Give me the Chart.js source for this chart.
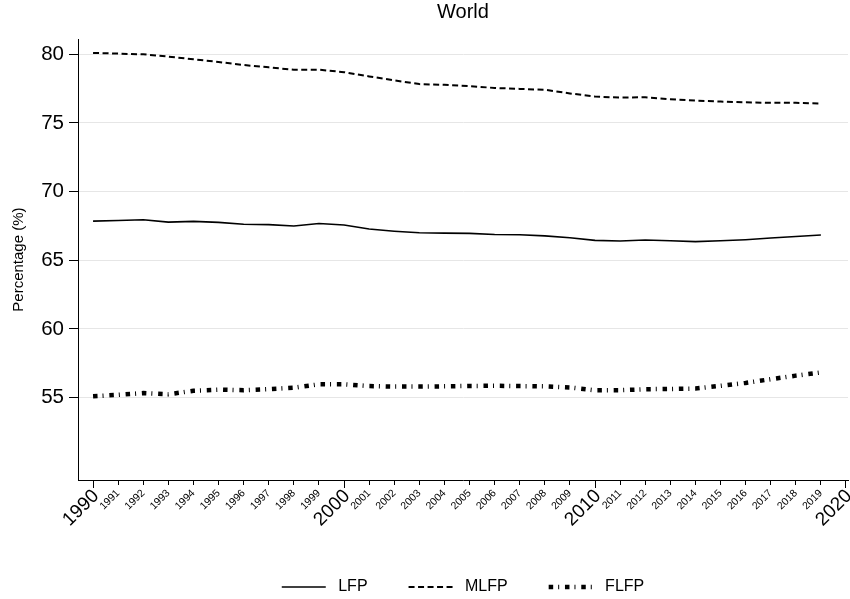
<!DOCTYPE html>
<html>
<head>
<meta charset="utf-8">
<title>World</title>
<script src="https://cdn.jsdelivr.net/npm/chart.js@4.4.0/dist/chart.umd.min.js"></script>
<style>
  html, body { margin: 0; padding: 0; background: #fff; }
  #wrap { width: 850px; height: 599px; }
</style>
</head>
<body>
<div id="wrap"><canvas id="lfpChart"></canvas></div>
<script>
// Labour force participation, world, 1990-2019
const years = [1990, 1991, 1992, 1993, 1994, 1995, 1996, 1997, 1998, 1999,
               2000, 2001, 2002, 2003, 2004, 2005, 2006, 2007, 2008, 2009,
               2010, 2011, 2012, 2013, 2014, 2015, 2016, 2017, 2018, 2019];

const lfp = [67.85, 67.90, 67.95, 67.78, 67.83, 67.76, 67.62, 67.60, 67.50, 67.68,
             67.57, 67.28, 67.12, 67.00, 66.98, 66.96, 66.88, 66.86, 66.78, 66.64,
             66.45, 66.40, 66.48, 66.42, 66.36, 66.42, 66.50, 66.62, 66.73, 66.84];

const mlfp = [80.10, 80.05, 80.00, 79.83, 79.64, 79.44, 79.22, 79.05, 78.87, 78.88,
              78.70, 78.39, 78.10, 77.83, 77.78, 77.68, 77.55, 77.48, 77.42, 77.15,
              76.92, 76.85, 76.87, 76.73, 76.63, 76.56, 76.50, 76.47, 76.47, 76.42];

const flfp = [55.10, 55.20, 55.33, 55.24, 55.50, 55.58, 55.54, 55.62, 55.72, 55.97,
              55.97, 55.84, 55.80, 55.80, 55.82, 55.85, 55.86, 55.84, 55.82, 55.74,
              55.53, 55.54, 55.61, 55.63, 55.66, 55.86, 56.07, 56.34, 56.60, 56.83];

const tickYears = [];
for (let y = 1990; y <= 2020; y++) tickYears.push(y);
const majorYears = [1990, 2000, 2010, 2020];
const yTicks = [55, 60, 65, 70, 75, 80];

Chart.defaults.font.family = "'Liberation Sans', Arial, Helvetica, sans-serif";
Chart.defaults.color = '#000';

function toPoints(values) {
  return years.map((yr, i) => ({ x: yr, y: values[i] }));
}

// legend samples keep the dataset's dash and width
function legendLabels(chart) {
  return Chart.defaults.plugins.legend.labels.generateLabels(chart).map(item => {
    const ds = chart.data.datasets[item.datasetIndex];
    item.text = ' ' + item.text;
    item.lineDash = ds.borderDash || [];
    item.lineWidth = ds.borderWidth;
    item.strokeStyle = ds.borderColor;
    return item;
  });
}

// rotated labels shouldn't eat into the plot width
function noSidePadding(s) {
  s.paddingLeft = 0;
  s.paddingRight = 0;
}

new Chart(document.getElementById('lfpChart'), {
  type: 'line',
  data: {
    datasets: [
      {
        label: 'LFP',
        data: toPoints(lfp),
        borderColor: '#000',
        borderWidth: 1.6,
        pointRadius: 0,
        tension: 0
      },
      {
        label: 'MLFP',
        data: toPoints(mlfp),
        borderColor: '#000',
        borderWidth: 2,
        borderDash: [6, 3.5],
        pointRadius: 0,
        tension: 0
      },
      {
        label: 'FLFP',
        data: toPoints(flfp),
        borderColor: '#000',
        borderWidth: 4.5,
        borderDash: [4.5, 5, 1, 5.8],
        pointRadius: 0,
        tension: 0
      }
    ]
  },
  options: {
    responsive: true,
    maintainAspectRatio: false,
    animation: false,
    layout: { padding: { left: 0, right: 2, top: 0, bottom: 0 } },
    plugins: {
      title: {
        display: true,
        text: 'World',
        fullSize: false,
        font: { size: 20, weight: 'normal' },
        padding: { top: 0, bottom: 15.2 }
      },
      legend: {
        position: 'bottom',
        fullSize: false,
        maxHeight: 61,
        labels: {
          usePointStyle: true,
          pointStyle: 'line',
          pointStyleWidth: 44,
          padding: 41,
          font: { size: 16 },
          generateLabels: legendLabels
        }
      },
      tooltip: { enabled: false }
    },
    scales: {
      x: {
        type: 'linear',
        min: 1989.4,
        max: 2020.08,
        afterBuildTicks: s => { s.ticks = tickYears.map(v => ({ value: v })); },
        afterFit: s => { s.height = 58; noSidePadding(s); },
        border: { color: '#000', width: 1 },
        grid: { drawOnChartArea: false, tickLength: 5, tickColor: '#000' },
        ticks: {
          autoSkip: false,
          minRotation: 45,
          maxRotation: 45,
          padding: 2,
          labelOffset: 0,
          color: '#000',
          font: { size: 10.5 },
          callback: v => (majorYears.includes(v) ? '' : String(v))
        }
      },
      // decade labels and their longer tick marks, laid over the bottom axis
      x2: {
        type: 'linear',
        axis: 'x',
        position: { y: 49 },
        min: 1989.4,
        max: 2020.08,
        afterBuildTicks: s => { s.ticks = majorYears.map(v => ({ value: v })); },
        afterFit: noSidePadding,
        border: { display: false },
        grid: { drawOnChartArea: false, tickLength: 8, tickColor: '#000' },
        ticks: {
          autoSkip: false,
          minRotation: 45,
          maxRotation: 45,
          padding: -3,
          labelOffset: 3,
          color: '#000',
          font: { size: 19 },
          callback: v => String(v)
        }
      },
      y: {
        min: 49,
        max: 81.1,
        afterBuildTicks: s => { s.ticks = yTicks.map(v => ({ value: v })); },
        afterFit: s => { s.width = 78; },
        border: { color: '#000', width: 1 },
        grid: { color: '#e6e6e6', lineWidth: 1, tickLength: 9, tickColor: '#000' },
        ticks: { padding: 5, color: '#000', font: { size: 20.5 } },
        title: {
          display: true,
          text: 'Percentage (%)',
          font: { size: 15 },
          padding: { top: 10, bottom: 0 }
        }
      }
    }
  }
});
</script>
</body>
</html>
